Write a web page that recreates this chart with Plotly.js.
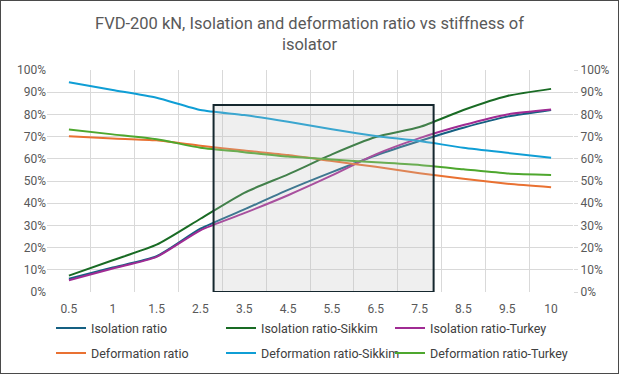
<!DOCTYPE html>
<html>
<head>
<meta charset="utf-8">
<script src="https://cdn.plot.ly/plotly-3.0.1.min.js"></script>
<style>
html,body{margin:0;padding:0;background:#fff;}
#frame{position:absolute;left:0;top:0;width:619px;height:374px;box-sizing:border-box;border:1px solid #4a4a4a;}
#chart{width:617px;height:372px;}
</style>
</head>
<body>
<div id="frame"><div id="chart"></div></div>
<script>
// Data
var stiffness = ['0.5','1','1.5','2.5','3.5','4.5','5.5','6.5','7.5','8.5','9.5','10'];
var isolationRatio        = [0.060, 0.110, 0.161, 0.285, 0.372, 0.460, 0.540, 0.615, 0.680, 0.740, 0.790, 0.820];
var isolationRatioSikkim  = [0.074, 0.143, 0.213, 0.330, 0.447, 0.530, 0.620, 0.698, 0.743, 0.820, 0.883, 0.915];
var isolationRatioTurkey  = [0.053, 0.106, 0.158, 0.278, 0.355, 0.436, 0.525, 0.620, 0.693, 0.752, 0.800, 0.822];
var deformationRatio       = [0.702, 0.692, 0.683, 0.659, 0.637, 0.617, 0.590, 0.564, 0.535, 0.510, 0.488, 0.472];
var deformationRatioSikkim = [0.945, 0.910, 0.875, 0.820, 0.797, 0.767, 0.733, 0.703, 0.680, 0.650, 0.627, 0.605];
var deformationRatioTurkey = [0.732, 0.710, 0.688, 0.650, 0.630, 0.610, 0.597, 0.584, 0.572, 0.553, 0.534, 0.527];

var seriesNames = ['Isolation ratio','Isolation ratio-Sikkim','Isolation ratio-Turkey',
                   'Deformation ratio','Deformation ratio-Sikkim','Deformation ratio-Turkey'];
var seriesValues = [isolationRatio, isolationRatioSikkim, isolationRatioTurkey,
                    deformationRatio, deformationRatioSikkim, deformationRatioTurkey];
var seriesColors = ['#156082','#196B24','#A02B93','#E97132','#0F9ED5','#4EA72E'];

// highlighted region (category index units, ratio units)
var boxX = [3.3, 8.32];
var boxTop = 0.842;

var fontFam = 'Roboto, "Liberation Sans", sans-serif';
var legendCols = [50, 220, 389];
var legendRows = [0.16, 0.093];

var layout = {
  width: 617, height: 372,
  margin: {l: 46, r: 45, t: 69, b: 81},
  paper_bgcolor: '#ffffff', plot_bgcolor: '#ffffff',
  font: {family: fontFam, size: 12, color: '#595959'},
  title: {text: 'FVD-200 kN, Isolation and deformation ratio vs stiffness of<br>isolator',
    font: {family: fontFam, size: 16.5, color: '#595959'},
    x: 0.5, xanchor: 'center', yref: 'container', y: 1 - 28/372, yanchor: 'middle'},
  xaxis: {type: 'category', range: [-0.5, 11.5], tickson: 'boundaries', showgrid: true, gridcolor: '#D9D9D9', gridwidth: 1,
    ticks: '', showline: false, zeroline: false, ticklabelstandoff: 8, tickfont: {size: 12, color: '#595959'}},
  yaxis: {range: [0, 1], dtick: 0.1, tickformat: '.0%', showgrid: true, gridcolor: '#D9D9D9',
    zeroline: false, showline: false, ticks: '', tickfont: {size: 12, color: '#595959'}},
  yaxis2: {range: [0, 1], dtick: 0.1, tickformat: '.0%', overlaying: 'y', side: 'right',
    showgrid: false, zeroline: false, showline: false, ticks: 'outside', ticklen: 4, tickcolor: '#D9D9D9',
    tickfont: {size: 12, color: '#595959'}},
  shapes: [{type: 'rect', xref: 'x', yref: 'y', x0: boxX[0], x1: boxX[1], y0: 0, y1: boxTop,
    fillcolor: 'rgba(190,190,190,0.25)', line: {color: '#15272e', width: 2}, layer: 'above'}],
  showlegend: true
};

var traces = seriesNames.map(function(n, i){
  var key = i === 0 ? 'legend' : 'legend' + (i + 1);
  layout[key] = {orientation: 'h', xref: 'container', x: legendCols[i % 3] / 617, xanchor: 'left',
    yref: 'container', y: legendRows[Math.floor(i / 3)], yanchor: 'top',
    font: {family: fontFam, size: 12.5, color: '#404040'}, bgcolor: 'rgba(0,0,0,0)'};
  return {
    x: stiffness, y: seriesValues[i], name: n, type: 'scatter', mode: 'lines',
    legend: key,
    line: {color: seriesColors[i], width: 2, shape: 'spline', smoothing: 0.6}
  };
});
// invisible trace to drive the right axis
traces.push({x: stiffness, y: isolationRatio, yaxis: 'y2', mode: 'lines', showlegend: false,
  hoverinfo: 'skip', line: {width: 0, color: 'rgba(0,0,0,0)'}});

Plotly.newPlot('chart', traces, layout, {displayModeBar: false, staticPlot: true});
</script>
</body>
</html>
